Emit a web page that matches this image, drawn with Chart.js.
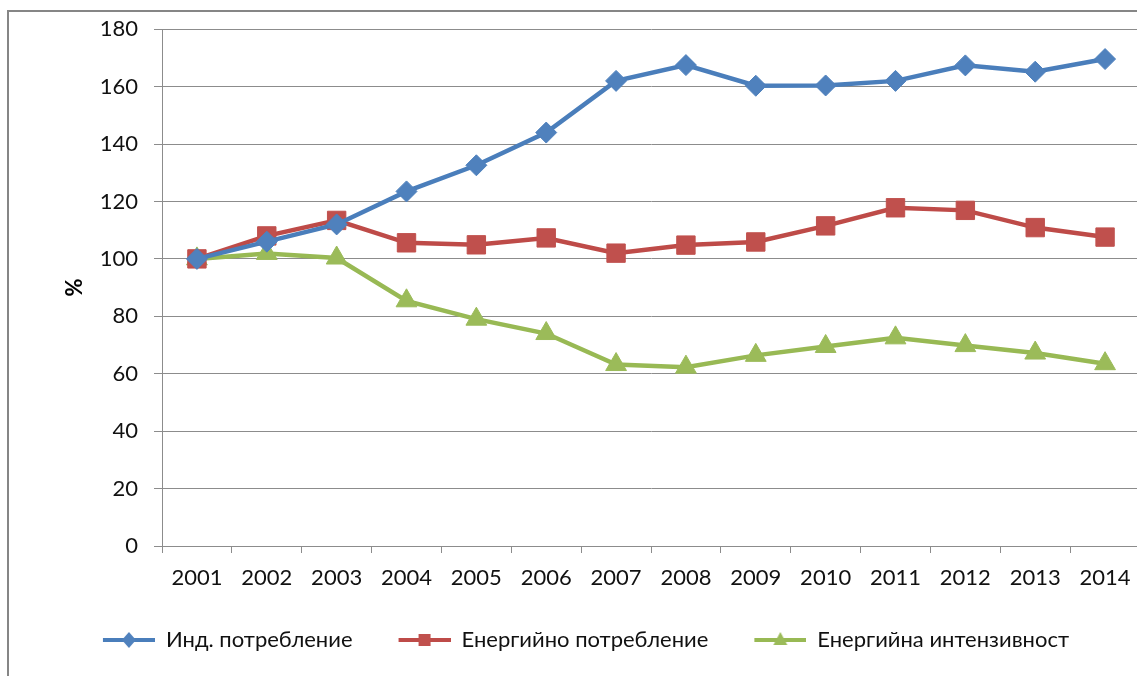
<!DOCTYPE html>
<html>
<head>
<meta charset="utf-8">
<script src="https://cdn.jsdelivr.net/npm/chart.js@4"></script>
<style>
  html, body { margin: 0; padding: 0; background: #fff; overflow: hidden; }
  #frame {
    position: absolute; left: 7px; top: 10px; width: 2000px; height: 2000px;
    border-left: 2px solid #868686; border-top: 2px solid #868686;
  }
  #wrap { position: absolute; left: 0; top: 0; width: 1150px; height: 676px; }
</style>
</head>
<body>
<div id="frame"></div>
<div id="wrap"><canvas id="chart"></canvas></div>
<script>
// values
const years = ['2001', '2002', '2003', '2004', '2005', '2006', '2007',
               '2008', '2009', '2010', '2011', '2012', '2013', '2014'];
const indConsumption = [100, 106, 112, 123.5, 132.6, 144, 162, 167.5, 160.3, 160.4, 162, 167.4, 165.2, 169.6];
const energyConsumption = [100, 108, 113.4, 105.6, 104.9, 107.3, 102, 104.8, 105.9, 111.5, 117.8, 116.9, 110.9, 107.6];
const energyIntensity = [100, 101.9, 100.3, 85.4, 79, 74, 63.2, 62.3, 66.4, 69.5, 72.5, 69.8, 67.2, 63.5];
const seriesNames = ['Инд. потребление', 'Енергийно потребление', 'Енергийна интензивност'];

const lineColors = ['#4a7ebb', '#be4b48', '#98b954'];
const fillColors = ['#4f81bd', '#c0504d', '#9bbb59'];
const styles = ['rectRot', 'rect', 'triangle'];
const radii = [10.5, 13, 12];

// legend icon: 16px gap, then a short line with the marker in the middle
const ICON_W = 68;
function legendIcon(i) {
  const c = document.createElement('canvas');
  c.width = ICON_W; c.height = 20;
  const g = c.getContext('2d');
  const cx = 16 + 26;
  g.strokeStyle = lineColors[i];
  g.lineWidth = 4;
  g.beginPath(); g.moveTo(16, 10); g.lineTo(ICON_W, 10); g.stroke();
  g.fillStyle = fillColors[i];
  g.beginPath();
  if (i === 0) {
    g.moveTo(cx, 2); g.lineTo(cx + 7, 10); g.lineTo(cx, 18); g.lineTo(cx - 7, 10);
  } else if (i === 1) {
    g.rect(cx - 6, 4, 12, 12);
  } else {
    g.moveTo(cx, 2); g.lineTo(cx + 7, 15); g.lineTo(cx - 7, 15);
  }
  g.closePath(); g.fill();
  return c;
}
const icons = [0, 1, 2].map(legendIcon);

const font = "Lato, 'Open Sans', sans-serif";
const gridColor = '#8c8c8c';

function makeSet(i, data) {
  return {
    label: seriesNames[i],
    data: data,
    borderColor: lineColors[i],
    backgroundColor: fillColors[i],
    borderWidth: 4.5,
    pointStyle: styles[i],
    pointRadius: radii[i],
    pointHoverRadius: radii[i],
    pointBackgroundColor: fillColors[i],
    pointBorderColor: fillColors[i],
    pointBorderWidth: 1,
    tension: 0,
    fill: false
  };
}

new Chart(document.getElementById('chart'), {
  type: 'line',
  data: {
    labels: years,
    datasets: [
      makeSet(0, indConsumption),
      makeSet(1, energyConsumption),
      makeSet(2, energyIntensity)
    ]
  },
  options: {
    responsive: true,
    maintainAspectRatio: false,
    animation: false,
    layout: { autoPadding: false, padding: { left: 16, top: 26, right: 10, bottom: 15 } },
    plugins: {
      tooltip: { enabled: false },
      legend: {
        position: 'bottom',
        labels: {
          usePointStyle: true,
          pointStyleWidth: ICON_W,
          padding: 30,
          color: '#111',
          font: { family: font, size: 22 },
          generateLabels: function (chart) {
            const items = Chart.defaults.plugins.legend.labels.generateLabels(chart);
            items.forEach((it, i) => { it.pointStyle = icons[i]; });
            return items;
          }
        }
      }
    },
    scales: {
      x: {
        offset: true,
        grid: { offset: true, drawOnChartArea: false, drawTicks: true, tickLength: 7, color: gridColor },
        border: { display: false },
        ticks: { color: '#111', font: { family: font, size: 22 }, padding: 12, maxRotation: 0 },
        afterFit: function (s) { s.height = 53; }
      },
      y: {
        min: 0,
        max: 180,
        grid: { color: gridColor, tickLength: 8, tickColor: gridColor },
        border: { color: gridColor, width: 1 },
        ticks: { stepSize: 20, color: '#111', font: { family: font, size: 22 }, padding: 16 },
        title: {
          display: true,
          text: '%',
          color: '#000',
          font: { family: font, size: 22, weight: 'bold' },
          padding: { top: 46, bottom: 0 }
        },
        afterFit: function (s) { s.width = 146; }
      }
    }
  }
});
</script>
</body>
</html>
